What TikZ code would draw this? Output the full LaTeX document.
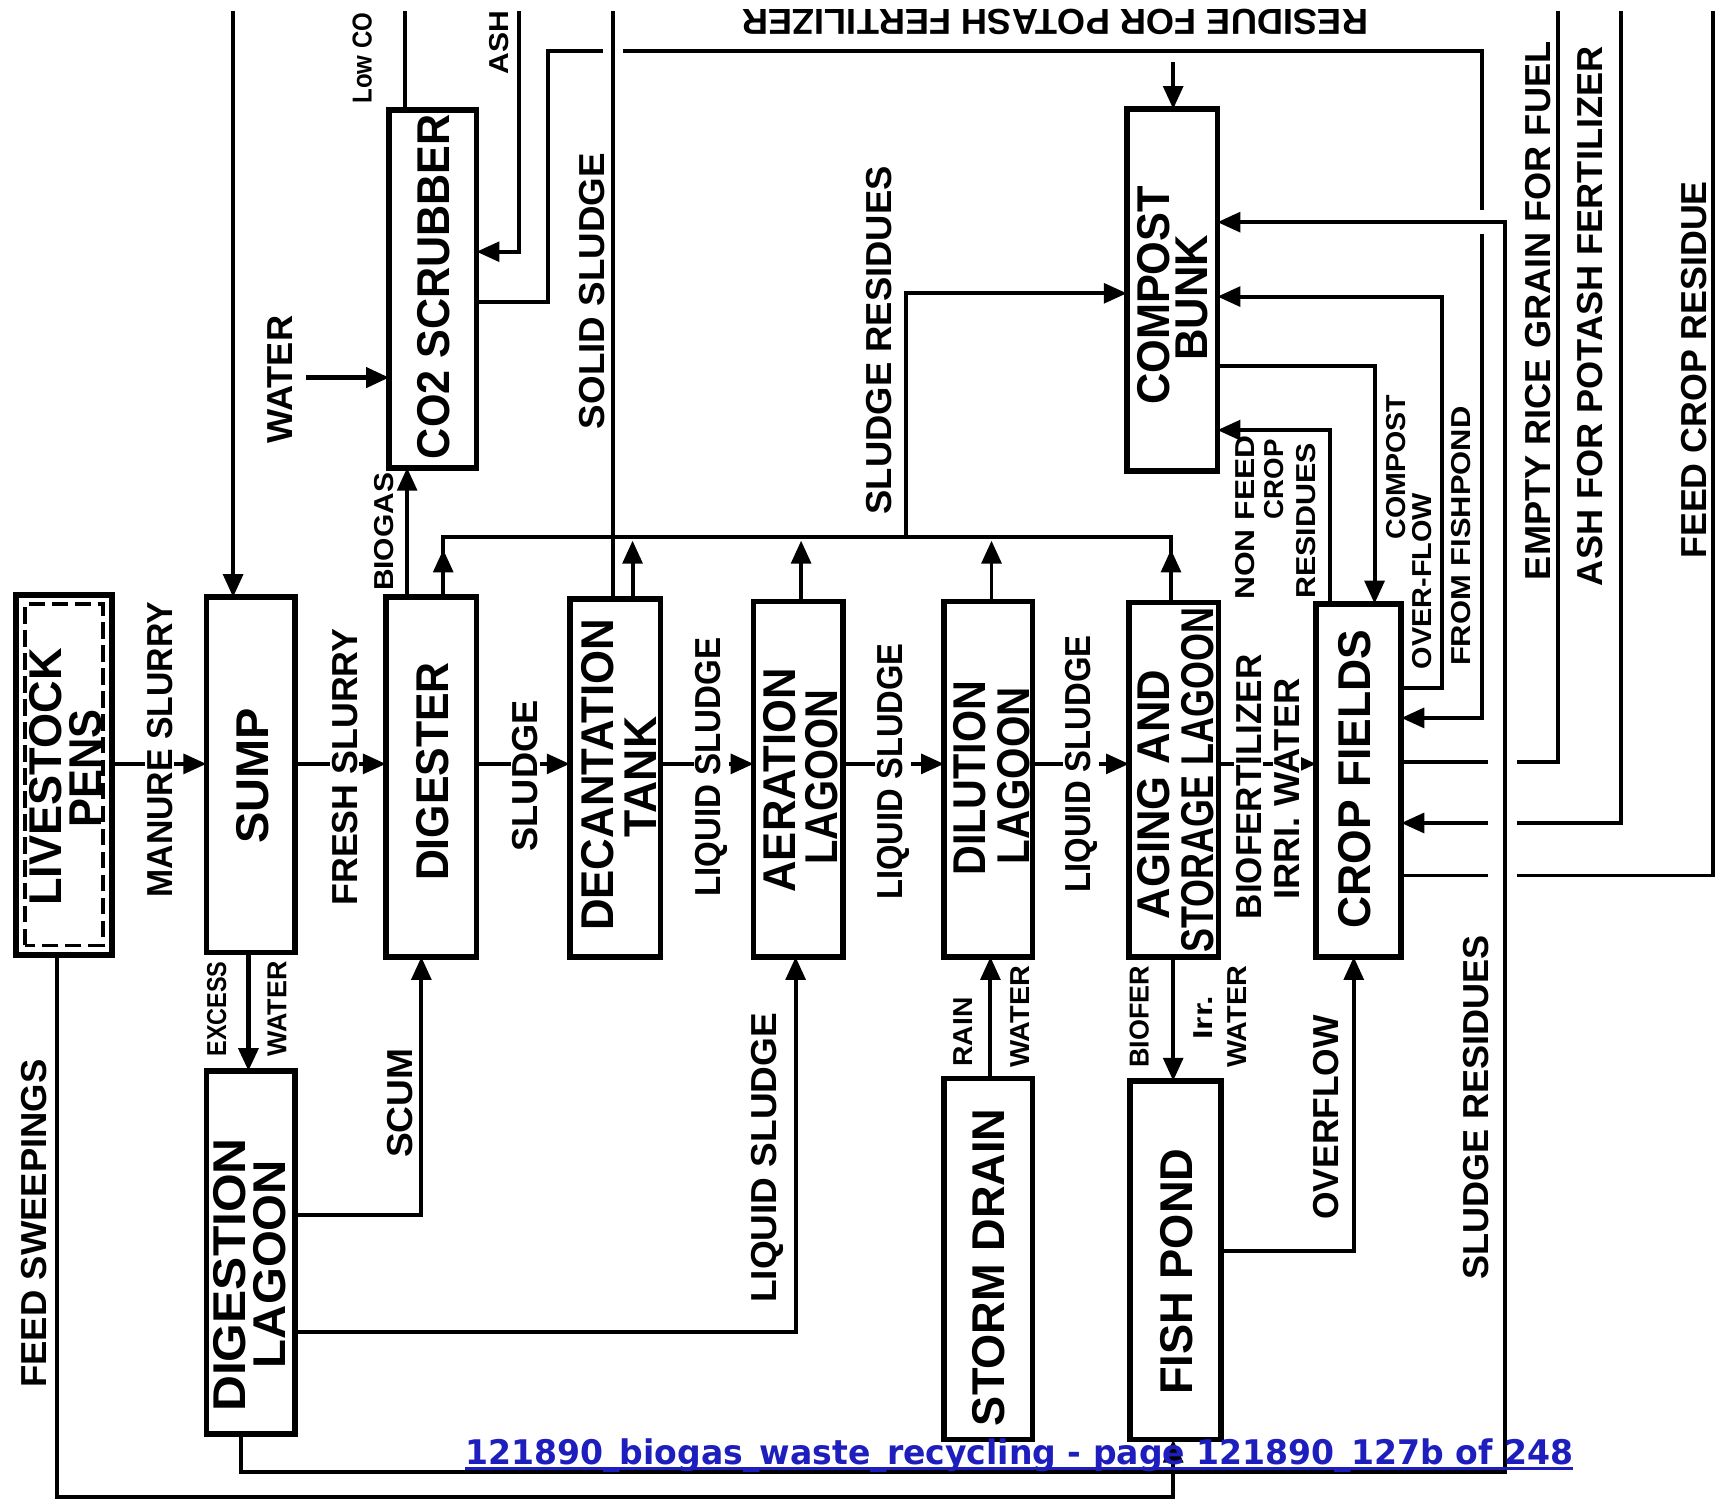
\documentclass[tikz,border=0pt]{standalone}
\usepackage{fontspec}
\usepackage{graphicx}
\setmainfont{Liberation Sans}
\newfontfamily\footfont{DejaVu Sans}
\usetikzlibrary{arrows.meta,calc}
\definecolor{footblue}{RGB}{30,30,190}
\newcommand{\fitw}[2]{\resizebox{#1pt}{\height}{#2}}
\begin{document}
\begin{tikzpicture}[x=1pt,y=-1pt,
  box/.style={draw, line width=5.2pt, inner sep=0pt, outer sep=0pt},
  ln/.style={line width=3.6pt},
  arr/.style={ln, -{Triangle[length=21pt,width=18pt]}},
  gap/.style={white, line width=10pt},
  bf/.style={font=\bfseries\fontsize{42}{44}\selectfont},
  lf/.style={font=\bfseries\fontsize{33}{35}\selectfont},
  sf/.style={font=\bfseries\fontsize{25}{27}\selectfont},
  tx/.style={inner sep=0pt, rotate=90},
  lb/.style={inner sep=1.5pt, fill=white, rotate=90}]

\fill[white] (0,0) rectangle (1568,1373);
\useasboundingbox (0,0) rectangle (1568,1373);

% ---------- boxes ----------
\node[box, minimum width=87.8pt, minimum height=328.8pt] (live) at (58.5,708) {};
\node[box, minimum width=80.8pt, minimum height=324.8pt] (sump) at (229,708) {};
\node[box, minimum width=82.8pt, minimum height=328.8pt] (dig) at (394,710) {};
\node[box, minimum width=82.8pt, minimum height=326.8pt] (dec) at (562,711) {};
\node[box, minimum width=81.8pt, minimum height=324.8pt] (aer) at (729.5,712) {};
\node[box, minimum width=80.8pt, minimum height=324.8pt] (dil) at (903,712) {};
\node[box, minimum width=81.8pt, minimum height=323.8pt] (age) at (1072.5,712.5) {};
\node[box, minimum width=77.8pt, minimum height=322.8pt] (crop) at (1241.5,713) {};
\node[box, minimum width=79.8pt, minimum height=326.8pt] (co2) at (395.5,264) {};
\node[box, minimum width=82.8pt, minimum height=330.8pt] (comp) at (1071,265) {};
\node[box, minimum width=80.8pt, minimum height=331.8pt] (diglag) at (229,1144.5) {};
\node[box, minimum width=80.8pt, minimum height=329.8pt] (storm) at (903,1150.5) {};
\node[box, minimum width=82.8pt, minimum height=327.8pt] (fish) at (1074,1151.5) {};
\draw[line width=3.4pt, dash pattern=on 15pt off 6pt] ($(live.south west)+(8.5,-8.5)$) rectangle ($(live.north east)+(-8.5,8.5)$);

% ---------- main row ----------
\draw[arr] (live.east |- 0,698) -- (sump.west |- 0,698);
\draw[arr] (sump.east |- 0,698) -- (dig.west |- 0,698);
\draw[arr] (dig.east |- 0,698) -- (dec.west |- 0,698);
\draw[arr] (dec.east |- 0,698) -- (aer.west |- 0,698);
\draw[arr] (aer.east |- 0,698) -- (dil.west |- 0,698);
\draw[arr] (dil.east |- 0,698) -- (age.west |- 0,698);
\draw[arr] (age.east |- 0,698) -- (crop.west |- 0,698);

% ---------- left / lower ----------
\coordinate (topSump) at (213,10);
\draw[arr] (topSump) -- (topSump |- sump.north);
\draw[arr, line width=4.4pt] (227,0 |- sump.south) -- (227,0 |- diglag.north);
\draw[arr] (diglag.east |- 0,1110) -- (385,1110) -- (385,0 |- dig.south);
\draw[arr] (diglag.east |- 0,1217) -- (727,1217) -- (727,0 |- aer.south);
\draw[arr] (52,0 |- live.south) -- (52,1368) -- (1072,1368) -- (1072,0 |- fish.south);
\draw[arr] (905,0 |- storm.north) -- (905,0 |- dil.south);
\draw[arr] (1072,0 |- age.south) -- (1072,0 |- fish.north);
\draw[arr] (fish.east |- 0,1143) -- (1237,1143) -- (1237,0 |- crop.south);

% ---------- upper ----------
\draw[arr] (372,0 |- dig.north) -- (372,0 |- co2.south);
\coordinate (busL) at (405,491);
\coordinate (busR) at (1070,491);
\draw[ln] (405,0 |- dig.north) -- (busL) -- (busR) -- (1070,0 |- age.north);
\draw[arr] (405,0 |- dig.north) -- (405,502);
\draw[arr] (1070,0 |- age.north) -- (1070,502);
\draw[arr] (578,0 |- dec.north) -- (578,494);
\draw[arr] (732,0 |- aer.north) -- (732,494);
\draw[arr] (906,0 |- dil.north) -- (906,494);
\draw[arr] (828,491) -- (828,268) -- (comp.west |- 0,268);
\coordinate (wIn) at (280,345);
\draw[arr, line width=4.4pt] (wIn) -- (co2.west |- wIn);
\coordinate (lowTop) at (370,10);
\draw[ln] (lowTop |- co2.north) -- (lowTop);
\coordinate (ashTop) at (474,10);
\draw[arr] (ashTop) -- (474,230) -- (co2.east |- 0,230);

% residue for potash fertilizer route
\draw[arr] (co2.east |- 0,276) -- (501,276) -- (501,47) -- (1354,47) -- (1354,656) -- (crop.east |- 0,656);
\coordinate (brTop) at (1072,57);
\draw[arr] (brTop) -- (brTop |- comp.north);
\draw[gap] (551,47) -- (569,47);
\draw[gap] (1354,192) -- (1354,214);

% compost / crop fields
\draw[arr] (crop.east |- 0,629) -- (1318,629) -- (1318,271) -- (comp.east |- 0,271);
\draw[arr] (comp.east |- 0,334) -- (1256,334) -- (1256,0 |- crop.north);
\draw[arr] (1215,0 |- crop.north) -- (1215,393) -- (comp.east |- 0,393);

% right outputs / inputs
\coordinate (riceTop) at (1424,10);
\coordinate (ashRTop) at (1481,10);
\coordinate (feedTop) at (1565,10);
\draw[ln] (crop.east |- 0,696) -- (1424,696) -- (riceTop);
\draw[arr] (ashRTop) -- (1481,752) -- (crop.east |- 0,752);
\draw[ln] (crop.east |- 0,800) -- (1565,800) -- (feedTop);
\draw[gap] (1360,696) -- (1386,696);
\draw[gap] (1360,752) -- (1386,752);
\draw[gap] (1360,800) -- (1386,800);

% sludge residues (digestion lagoon -> compost)
\draw[arr] (220,0 |- diglag.south) -- (220,1345) -- (1375,1345) -- (1375,203) -- (comp.east |- 0,203);

% solid sludge
\coordinate (solTop) at (560,10);
\draw[ln] (solTop |- dec.north) -- (solTop);

% ---------- box labels ----------
\node[tx,bf] (lLive) at (42,710) {\fitw{235}{LIVESTOCK}};
\node[tx,bf] (lPens) at (78,702) {\fitw{108}{PENS}};
\node[tx,bf] (lSump) at (231,709) {\fitw{124}{SUMP}};
\node[tx,bf] (lDig) at (395,705) {\fitw{200}{DIGESTER}};
\node[tx,bf] (lDec) at (546,708) {\fitw{285}{DECANTATION}};
\node[tx,bf] (lTank) at (585,710) {\fitw{110}{TANK}};
\node[tx,bf] (lAer) at (712,713) {\fitw{205}{AERATION}};
\node[tx,bf] (lAerL) at (751,710) {\fitw{160}{LAGOON}};
\node[tx,bf] (lDil) at (886,711) {\fitw{178}{DILUTION}};
\node[tx,bf] (lDilL) at (926,709) {\fitw{162}{LAGOON}};
\node[tx,bf] (lAge) at (1054,726) {\fitw{228}{AGING AND}};
\node[tx,bf] (lSto) at (1094,713) {\fitw{315}{STORAGE LAGOON}};
\node[tx,bf] (lCrop) at (1238,712) {\fitw{273}{CROP FIELDS}};
\node[tx,bf] (lCo2) at (396,262) {\fitw{315}{CO2 SCRUBBER}};
\node[tx,bf] (lComp) at (1054,270) {\fitw{200}{COMPOST}};
\node[tx,bf] (lBunk) at (1089,272) {\fitw{115}{BUNK}};
\node[tx,bf] (lDgl) at (210,1165) {\fitw{250}{DIGESTION}};
\node[tx,bf] (lDglL) at (246,1155) {\fitw{190}{LAGOON}};
\node[tx,bf] (lStorm) at (903,1158) {\fitw{290}{STORM DRAIN}};
\node[tx,bf] (lFish) at (1075,1162) {\fitw{225}{FISH POND}};

% ---------- connector labels ----------
\node[lb,lf] (tManure) at (146,685) {\fitw{270}{MANURE SLURRY}};
\node[lb,lf] (tFresh) at (315,701) {\fitw{253}{FRESH SLURRY}};
\node[lb,lf] (tSludge) at (480,709) {\fitw{138}{SLUDGE}};
\node[lb,lf] (tLiqA) at (650,701) {\fitw{237}{LIQUID SLUDGE}};
\node[lb,lf] (tLiqB) at (816,705) {\fitw{234}{LIQUID SLUDGE}};
\node[lb,lf] (tLiqC) at (988,698) {\fitw{235}{LIQUID SLUDGE}};
\node[lb,lf] (tBiof) at (1141,719) {\fitw{242}{BIOFERTILIZER}};
\node[lb,lf] (tIrri) at (1176,721) {\fitw{202}{IRRI. WATER}};
\node[tx,lf] (tWater) at (256,347) {\fitw{117}{WATER}};
\node[tx,lf] (tSolid) at (541,266) {\fitw{252}{SOLID SLUDGE}};
\node[tx,lf] (tSresA) at (803,311) {\fitw{318}{SLUDGE RESIDUES}};
\node[tx,lf] (tScum) at (366,1008) {\fitw{100}{SCUM}};
\node[tx,lf] (tLiqD) at (701,1058) {\fitw{265}{LIQUID SLUDGE}};
\node[tx,lf] (tOver) at (1212,1021) {\fitw{187}{OVERFLOW}};
\node[tx,lf] (tSresB) at (1349,1012) {\fitw{315}{SLUDGE RESIDUES}};
\node[tx,lf] (tSweep) at (31,1118) {\fitw{300}{FEED SWEEPINGS}};
\node[tx,lf] (tRice) at (1405,284) {\fitw{492}{EMPTY RICE GRAIN FOR FUEL}};
\node[tx,lf] (tAshP) at (1453,289) {\fitw{493}{ASH FOR POTASH FERTILIZER}};
\node[tx,lf] (tFeedC) at (1548,338) {\fitw{345}{FEED CROP RESIDUE}};
\node[lf, inner sep=0pt, rotate=180] (tResid) at (964,20) {\fitw{572}{RESIDUE FOR POTASH FERTILIZER}};

\node[tx,sf] (tBiogas) at (351,486) {\fitw{108}{BIOGAS}};
\node[tx,sf] (tExcess) at (198,922) {\fitw{87}{EXCESS}};
\node[tx,sf] (tWat1) at (253,922) {\fitw{87}{WATER}};
\node[tx,sf] (tRain) at (880,943) {\fitw{63}{RAIN}};
\node[tx,sf] (tWat2) at (932,929) {\fitw{93}{WATER}};
\node[tx,sf] (tBiofer) at (1041,929) {\fitw{93}{BIOFER}};
\node[tx,sf] (tIrr) at (1099,930) {\fitw{40}{Irr.}};
\node[tx,sf] (tWat3) at (1130,929) {\fitw{93}{WATER}};
\node[tx,sf] (tNon) at (1138,473) {\fitw{150}{NON FEED}};
\node[tx,sf] (tCropL) at (1164,438) {\fitw{73}{CROP}};
\node[tx,sf] (tRes) at (1193,476) {\fitw{142}{RESIDUES}};
\node[tx,sf] (tComp) at (1276,427) {\fitw{132}{COMPOST}};
\node[tx,sf] (tOF) at (1299,531) {\fitw{161}{OVER-FLOW}};
\node[tx,sf] (tFF) at (1335,490) {\fitw{237}{FROM FISHPOND}};
\node[tx,sf] (tLow) at (331,53) {\fitw{83}{Low CO}};
\node[tx,sf] (tAshT) at (456,39) {\fitw{58}{ASH}};

% ---------- footer ----------
\node[font=\footfont\bfseries\fontsize{31}{33}\selectfont, text=footblue, inner sep=0pt, anchor=base west] (foot) at (425,1338) {\fitw{1012}{121890\_biogas\_waste\_recycling - page 121890\_127b of 248}};
\draw[footblue, line width=2.2pt] ($(foot.base west)+(0,4)$) -- ($(foot.base east)+(0,4)$);
\end{tikzpicture}
\end{document}
